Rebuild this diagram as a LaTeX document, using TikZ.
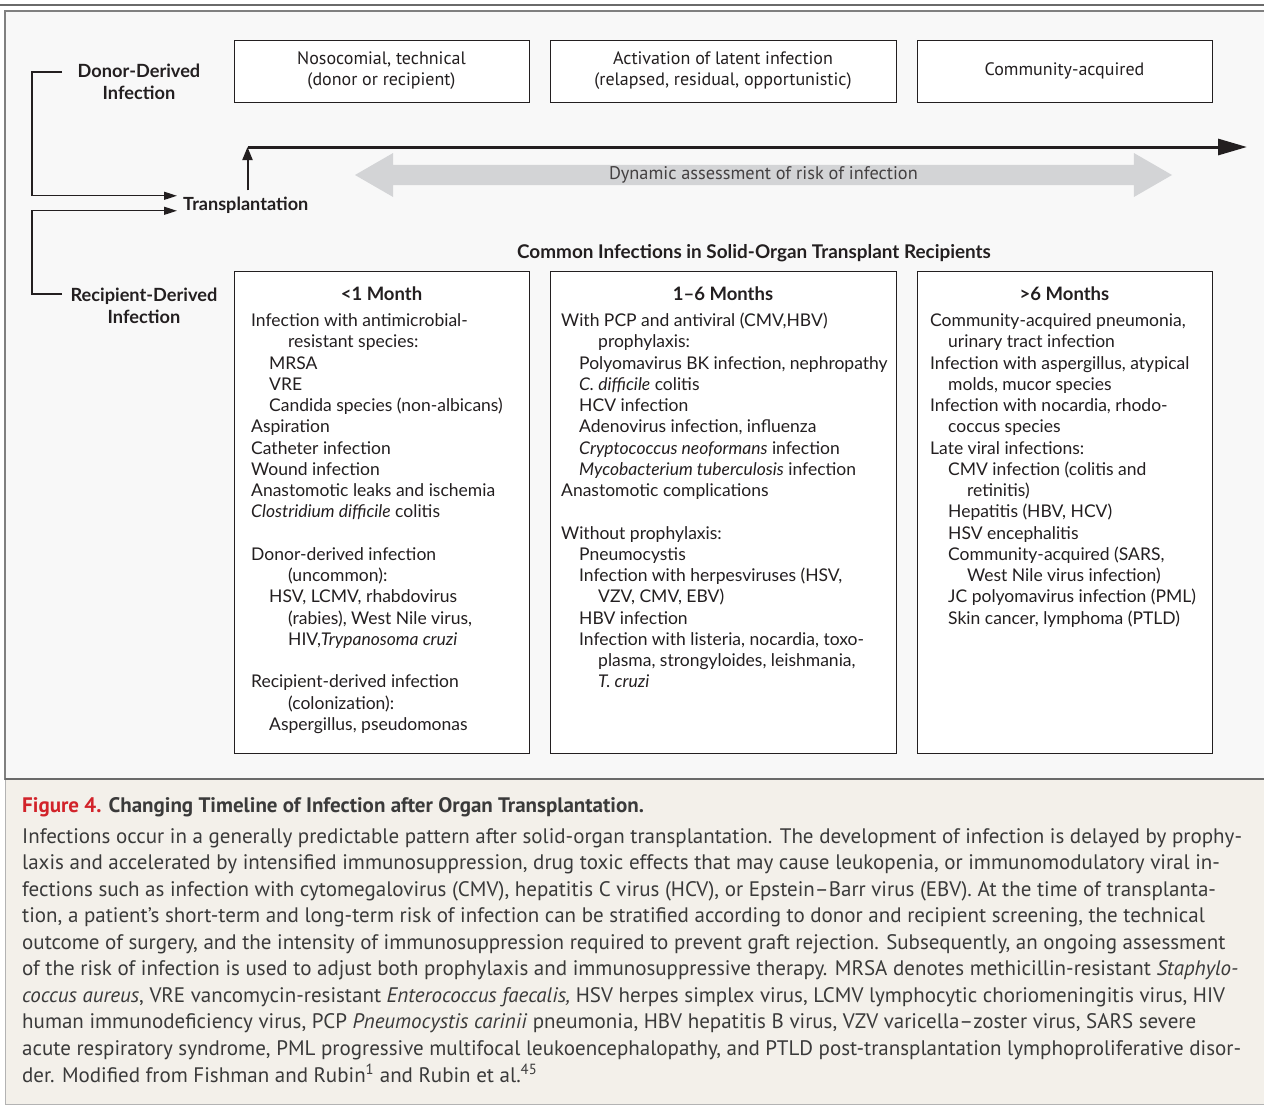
\documentclass[tikz,border=0pt]{standalone}
\usepackage{fontspec}
\setmainfont{Lato}
\newfontfamily\condf{PT Sans}
\usetikzlibrary{arrows.meta,shapes.arrows}
\definecolor{ink}{HTML}{231F20}
\definecolor{panelbg}{HTML}{F8F8F8}
\definecolor{capbg}{HTML}{F3F0EA}
\definecolor{framec}{HTML}{808080}
\definecolor{rulec}{HTML}{6A6A6A}
\definecolor{figred}{HTML}{D2232A}
\definecolor{arrowgray}{HTML}{D3D4D6}
\definecolor{captext}{HTML}{3A3A3A}
\newcommand\bodyfont{\fontsize{17.5}{21.26}\selectfont}
\newcommand\Li[1]{\hspace*{18pt}#1\\}
\newcommand\Lii[1]{\hspace*{37pt}#1\\}
\newcommand\Lo[1]{#1\\}
\newcommand\Lblank{\mbox{}\\}
\tikzset{
  topbox/.style={draw=ink, line width=1pt, fill=white, minimum width=295pt, minimum height=62pt, align=center, inner sep=0pt, text=ink, font=\condf\fontsize{18}{21}\selectfont},
  colbox/.style={draw=ink, line width=1pt, fill=white, inner sep=0pt},
  sidelabel/.style={align=center, font=\bfseries\fontsize{18.2}{22}\selectfont, text=ink, inner sep=0pt},
  colhead/.style={anchor=base, font=\bfseries\fontsize{18.5}{21}\selectfont, text=ink, inner sep=0pt},
  coltext/.style={anchor=base west, inner sep=0pt, text=ink, font=\bodyfont},
  thinarrow/.style={draw=ink, line width=1.3pt, -{Triangle[length=13pt,width=8pt]}},
}
\begin{document}
\begin{tikzpicture}[x=1pt,y=1pt]
\useasboundingbox (0,0) rectangle (1264,-1106);
\fill[white] (0,0) rectangle (1264,-1106);
% frames
\draw[line width=2.2pt, rulec] (0,-5) -- (1264,-5);
\filldraw[fill=panelbg, draw=framec, line width=1.2pt] (5,-11) rectangle (1275,-779);
\filldraw[fill=capbg, draw=framec!60, line width=1pt] (5,-779) rectangle (1275,-1104);
\draw[line width=1.8pt, rulec] (5,-779) -- (1275,-779);

% top boxes
\node[topbox] (b1) at (381.5,-71) {Nosocomial, technical\\(donor or recipient)};
\node[topbox, minimum width=346pt] (b2) at (723,-71) {Activation of latent infection\\(relapsed, residual, opportunistic)};
\node[topbox] (b3) at (1064.5,-71) {Community-acquired};

% side labels (base = baseline of last line)
\node[sidelabel, anchor=base] (dl) at (139,-99) {Donor-Derived\\Infection};
\node[sidelabel, anchor=base] (rl) at (144,-323) {Recipient-Derived\\Infection};
\node[anchor=base west, inner sep=6pt, font=\bfseries\fontsize{18.1}{21}\selectfont, text=ink] (tx) at (177,-210) {Transplantation};
\coordinate (dstart) at (62,-72);
\coordinate (rstart) at (62,-294);
\draw[thinarrow] (dstart) -- (32,-72) |- ([yshift=9pt]tx.west);
\draw[thinarrow] (rstart) -- (32,-294) |- ([yshift=-6pt]tx.west);

% timeline
\coordinate (tl0) at (247.5,-147);
\coordinate (tl1) at (1247,-147);
\draw[line width=3pt, ink, -{Triangle[length=29pt,width=16pt]}] (tl0) -- (tl1);
\draw[draw=ink, line width=2pt, -{Triangle[length=13pt,width=10pt]}] (tl0 |- tx.north) -- (tl0);

% dynamic assessment arrow
\node[double arrow, fill=arrowgray, minimum width=44pt, minimum height=817pt, double arrow head extend=10pt, double arrow tip angle=60, inner sep=0pt, text=ink!85, font=\condf\fontsize{18.3}{21}\selectfont] (dyn) at (763.5,-175) {Dynamic assessment of risk of infection};

% title
\node[anchor=base, inner sep=0pt, font=\bfseries\fontsize{18.9}{21}\selectfont, text=ink] (title) at (754,-258) {Common Infections in Solid-Organ Transplant Recipients};

% columns
\node[colbox, minimum width=295pt, minimum height=482pt] (c1) at (381.5,-512) {};
\node[colbox, minimum width=346pt, minimum height=482pt] (c2) at (723,-512) {};
\node[colbox, minimum width=295pt, minimum height=482pt] (c3) at (1064.5,-512) {};

\node[colhead] (h1) at (c1.center |- 0,-300) {<1 Month};
\node[colhead] (h2) at (c2.center |- 0,-300) {1–6 Months};
\node[colhead] (h3) at (c3.center |- 0,-300) {>6 Months};

\node[coltext] (t1) at (251,-326.5) {\begin{minipage}[t]{275pt}\raggedright
\Lo{Infection with antimicrobial-}
\Lii{resistant species:}
\Li{MRSA}
\Li{VRE}
\Li{Candida species (non-albicans)}
\Lo{Aspiration}
\Lo{Catheter infection}
\Lo{Wound infection}
\Lo{Anastomotic leaks and ischemia}
\Lo{\textit{Clostridium difficile} colitis}
\Lblank
\Lo{Donor-derived infection}
\Lii{(uncommon):}
\Li{HSV, LCMV, rhabdovirus}
\Lii{(rabies), West Nile virus,}
\Lii{HIV,\textit{Trypanosoma cruzi}}
\Lblank
\Lo{Recipient-derived infection}
\Lii{(colonization):}
\hspace*{18pt}Aspergillus, pseudomonas
\end{minipage}};

\node[coltext] (t2) at (561,-326.5) {\begin{minipage}[t]{335pt}\raggedright
\Lo{With PCP and antiviral (CMV,HBV)}
\Lii{prophylaxis:}
\Li{Polyomavirus BK infection, nephropathy}
\Li{\textit{C. difficile} colitis}
\Li{HCV infection}
\Li{Adenovirus infection, influenza}
\Li{\textit{Cryptococcus neoformans} infection}
\Li{\textit{Mycobacterium tuberculosis} infection}
\Lo{Anastomotic complications}
\Lblank
\Lo{Without prophylaxis:}
\Li{Pneumocystis}
\Li{Infection with herpesviruses (HSV,}
\Lii{VZV, CMV, EBV)}
\Li{HBV infection}
\Li{Infection with listeria, nocardia, toxo-}
\Lii{plasma, strongyloides, leishmania,}
\hspace*{37pt}\textit{T. cruzi}
\end{minipage}};

\node[coltext] (t3) at (930,-326.5) {\begin{minipage}[t]{280pt}\raggedright
\Lo{Community-acquired pneumonia,}
\Li{urinary tract infection}
\Lo{Infection with aspergillus, atypical}
\Li{molds, mucor species}
\Lo{Infection with nocardia, rhodo-}
\Li{coccus species}
\Lo{Late viral infections:}
\Li{CMV infection (colitis and}
\Lii{retinitis)}
\Li{Hepatitis (HBV, HCV)}
\Li{HSV encephalitis}
\Li{Community-acquired (SARS,}
\Lii{West Nile virus infection)}
\Li{JC polyomavirus infection (PML)}
\hspace*{18pt}Skin cancer, lymphoma (PTLD)
\end{minipage}};

% caption
\node[anchor=base west, inner sep=0pt, font=\condf\bfseries\fontsize{21}{26}\selectfont, text=captext] (cap) at (22,-812) {\textcolor{figred}{Figure 4.} Changing Timeline of Infection after Organ Transplantation.};
\node[anchor=base west, inner sep=0pt, font=\condf\fontsize{21}{26.56}\selectfont, text=captext] (capbody) at (22,-843) {\begin{minipage}[t]{1240pt}\raggedright
Infections occur in a generally predictable pattern after solid-organ transplantation. The development of infection is delayed by prophy-\\
laxis and accelerated by intensified immunosuppression, drug toxic effects that may cause leukopenia, or immunomodulatory viral in-\\
fections such as infection with cytomegalovirus (CMV), hepatitis C virus (HCV), or Epstein–Barr virus (EBV). At the time of transplanta-\\
tion, a patient’s short-term and long-term risk of infection can be stratified according to donor and recipient screening, the technical\\
outcome of surgery, and the intensity of immunosuppression required to prevent graft rejection. Subsequently, an ongoing assessment\\
of the risk of infection is used to adjust both prophylaxis and immunosuppressive therapy. MRSA denotes methicillin-resistant \textit{Staphylo-}\\
\textit{coccus aureus}, VRE vancomycin-resistant \textit{Enterococcus faecalis,} HSV herpes simplex virus, LCMV lymphocytic choriomeningitis virus, HIV\\
human immunodeficiency virus, PCP \textit{Pneumocystis carinii} pneumonia, HBV hepatitis B virus, VZV varicella–zoster virus, SARS severe\\
acute respiratory syndrome, PML progressive multifocal leukoencephalopathy, and PTLD post-transplantation lymphoproliferative disor-\\
der. Modified from Fishman and Rubin\textsuperscript{1} and Rubin et al.\textsuperscript{45}
\end{minipage}};
\end{tikzpicture}
\end{document}
